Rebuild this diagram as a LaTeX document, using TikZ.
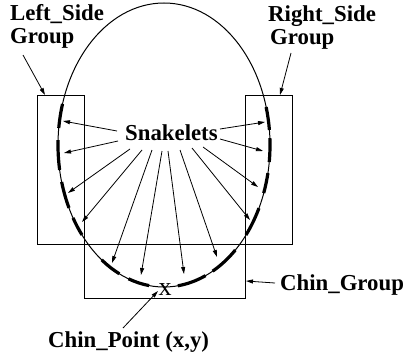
\documentclass[tikz,border=0pt]{standalone}
\usepackage{fontspec}
\setmainfont{Liberation Serif}
\usetikzlibrary{arrows.meta}
\begin{document}
\begin{tikzpicture}[x=1pt,y=-1pt,
  lbl/.style={font=\fontsize{22.8}{24}\selectfont\bfseries, inner sep=0pt, anchor=base west},
  boxline/.style={draw, line width=0.9pt},
  snkseg/.style={line width=3.2pt},
  arr/.style={line width=0.8pt, -{Triangle[length=7pt,width=4pt]}},
  ]
\useasboundingbox (0,0) rectangle (406,361);
% face outline
\draw[line width=1pt] (164,145) ellipse [x radius=106pt, y radius=142pt];
% group boxes
\draw[boxline] (37,95) rectangle (84,244);
\draw[boxline] (245,95) rectangle (292,244);
\draw[boxline] (84,244) rectangle (245,298);
% snakelets
\foreach \a/\b in {163.2/173.1, 178/190.1, 195.1/206.3, 210.9/219.3, 234/245.1, 250.4/261.9,
                   277.5/293.1, 297.3/312.3, 320.7/333.6, 340.2/348.6, 353.1/362.8, 6.1/15.5}
  \draw[snkseg] (164,145) ++(\a:106pt and 142pt) arc[start angle=\a, end angle=\b, x radius=106pt, y radius=142pt];
% labels
\node[lbl] (ls1) at (10,21) {Left\_Side};
\node[lbl] (ls2) at (10,44) {Group};
\node[lbl] (rs1) at (268,22) {Right\_Side};
\node[lbl] (rs2) at (270,45) {Group};
\node[lbl] (snk) at (125,140) {Snakelets};
\node[lbl] (cg) at (280,290) {Chin\_Group};
\node[lbl] (cp) at (48,347) {Chin\_Point (x,y)};
\node[font=\fontsize{26}{26}\selectfont, inner sep=0pt] (xm) at (165,290) {x};
% label arrow coordinates
\coordinate (lsA) at (23,55);  \coordinate (lsB) at (45,95);
\coordinate (rsA) at (291,53); \coordinate (rsB) at (280,95);
\coordinate (cgA) at (275,283); \coordinate (cgB) at (246,281);
\coordinate (cpA) at (123,328); \coordinate (cpB) at (158,291);
\draw[arr] (lsA) -- (lsB);
\draw[arr] (rsA) -- (rsB);
\draw[arr] (cgA) -- (cgB);
\draw[arr] (cpA) -- (cpB);
% snakelet arrows
\foreach \i/\sx/\sy/\tx/\ty in {1/117/131/63/121, 2/118/141/64/153, 3/130/149/68/193, 4/142/150/82/222,
   5/152/150/112/263, 6/162/151/141/275, 7/168/151/184/274, 8/180/150/217/257,
   9/192/148/250/220, 10/203/147/258/187, 11/220/139/263/151, 12/220/129/265/122}{
  \coordinate (s\i) at (\sx,\sy);
  \coordinate (t\i) at (\tx,\ty);
  \draw[arr] (s\i) -- (t\i);
}
\end{tikzpicture}
\end{document}
